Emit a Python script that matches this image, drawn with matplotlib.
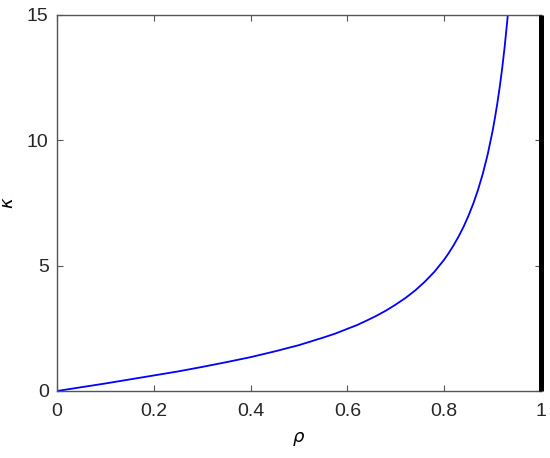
import matplotlib
matplotlib.use("Agg")
import matplotlib.pyplot as plt

# kappa vs rho
rho = [0.0, 0.05, 0.1, 0.15, 0.2, 0.25, 0.3, 0.35, 0.4, 0.45, 0.5, 0.525,
       0.55, 0.575, 0.6, 0.62, 0.64, 0.66, 0.68, 0.7, 0.72, 0.74, 0.76, 0.78,
       0.8, 0.81, 0.82, 0.83, 0.84, 0.85, 0.86, 0.87, 0.88, 0.89, 0.9, 0.905,
       0.91, 0.915, 0.92, 0.925, 0.93, 0.933]
kappa = [0.0, 0.15, 0.30, 0.46, 0.62, 0.78, 0.96, 1.15, 1.35, 1.58, 1.83, 1.98,
         2.13, 2.29, 2.48, 2.63, 2.81, 3.00, 3.21, 3.45, 3.71, 4.01, 4.36, 4.76,
         5.24, 5.52, 5.83, 6.17, 6.55, 6.98, 7.47, 8.03, 8.68, 9.45, 10.37, 10.91,
         11.50, 12.16, 12.90, 13.74, 14.70, 15.34]

# asymptote at rho = 1
asym_x = [1.0, 1.0]
asym_y = [0.0, 15.0]

xticks = [0, 0.2, 0.4, 0.6, 0.8, 1]
xticklabels = ["0", "0.2", "0.4", "0.6", "0.8", "1"]
yticks = [0, 5, 10, 15]

fig = plt.figure(figsize=(5.5, 4.58), dpi=100)
ax = fig.add_axes([0.1036, 0.1463, 0.880, 0.821])

ax.plot(rho, kappa, color="blue", linewidth=1.3)
ax.plot(asym_x, asym_y, color="black", linewidth=3.6, solid_capstyle="butt",
        clip_on=False, zorder=5)

ax.set_xlim(0, 1)
ax.set_ylim(0, 15)
ax.set_xticks(xticks)
ax.set_xticklabels(xticklabels)
ax.set_yticks(yticks)

for s in ax.spines.values():
    s.set_color("#555555")
    s.set_linewidth(1.0)
ax.tick_params(direction="in", length=4, width=0.8, color="#555555",
               top=True, right=True, labelsize=14, labelcolor="#262626")
ax.tick_params(axis="x", pad=9)
ax.tick_params(axis="y", pad=6)
for lab in ax.get_xticklabels() + ax.get_yticklabels():
    lab.set_family("Liberation Sans")

ax.set_xlabel(r"$\rho$", fontsize=13)
ax.set_ylabel(r"$\kappa$", fontsize=13)
ax.xaxis.set_label_coords(0.5, -0.104)
ax.yaxis.set_label_coords(-0.083, 0.5)

fig.savefig("out.png", dpi=100)
